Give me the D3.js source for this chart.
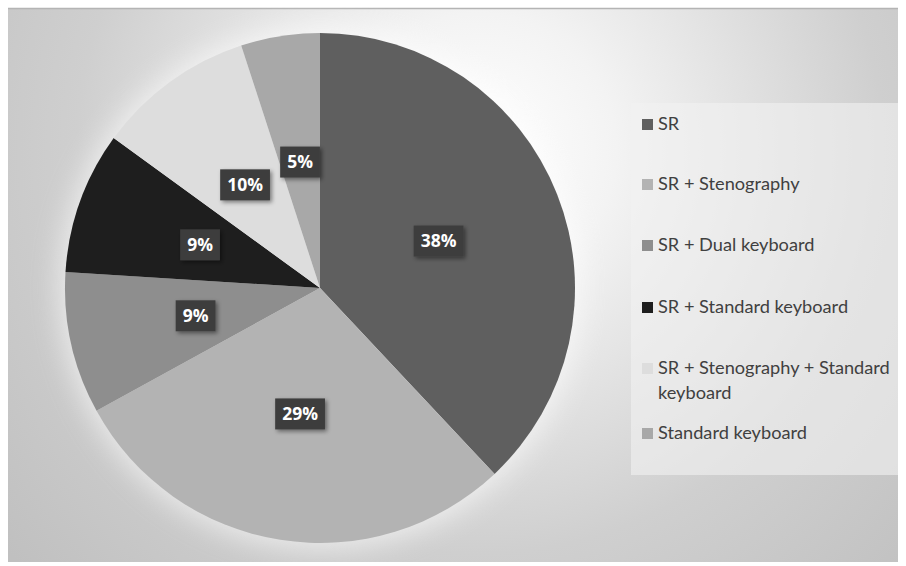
<!DOCTYPE html>
<html><head><meta charset="utf-8">
<script src="https://cdn.jsdelivr.net/npm/d3@7"></script>
<style>html,body{margin:0;padding:0;background:#fff;}svg{display:block;}</style>
</head><body>
<svg id="chart" width="906" height="566"></svg>
<script>
const categories = ["SR", "SR + Stenography", "SR + Dual keyboard", "SR + Standard keyboard", "SR + Stenography + Standard keyboard", "Standard keyboard"];
const values = [38, 29, 9, 9, 10, 5];
const labels = ["38%", "29%", "9%", "9%", "10%", "5%"];
const colors = ["#5f5f5f", "#b3b3b3", "#8e8e8e", "#1e1e1e", "#dddddd", "#a8a8a8"];
const legendLines = [["SR"], ["SR + Stenography"], ["SR + Dual keyboard"], ["SR + Standard keyboard"], ["SR + Stenography + Standard", "keyboard"], ["Standard keyboard"]];

const svg = d3.select("#chart");
const defs = svg.append("defs");

const bg = defs.append("radialGradient").attr("id", "bg")
  .attr("gradientUnits", "userSpaceOnUse").attr("cx", 480).attr("cy", 150).attr("r", 620);
bg.append("stop").attr("offset", "0").attr("stop-color", "#ffffff");
bg.append("stop").attr("offset", "0.22").attr("stop-color", "#f3f3f3");
bg.append("stop").attr("offset", "0.65").attr("stop-color", "#cfcfcf");
bg.append("stop").attr("offset", "1").attr("stop-color", "#c0c0c0");

const glow = defs.append("filter").attr("id", "glow").attr("x", "-30%").attr("y", "-30%").attr("width", "160%").attr("height", "160%");
glow.append("feGaussianBlur").attr("stdDeviation", 14);

const shadow = defs.append("filter").attr("id", "shadow").attr("x", "-30%").attr("y", "-30%").attr("width", "160%").attr("height", "160%");
shadow.append("feDropShadow").attr("dx", 2).attr("dy", 2).attr("stdDeviation", 2).attr("flood-color", "#000").attr("flood-opacity", 0.45);

// background frame
svg.append("rect").attr("x", 8).attr("y", 9).attr("width", 890).attr("height", 553)
  .attr("fill", "url(#bg)");
svg.append("line").attr("x1", 8).attr("x2", 898).attr("y1", 8.5).attr("y2", 8.5)
  .attr("stroke", "#b4b4b4").attr("stroke-width", 1.5);

const cx = 320, cy = 288, R = 255;
const pie = d3.pie().sort(null).value(d => d)(values);
const arc = d3.arc().innerRadius(0).outerRadius(R);

const g = svg.append("g").attr("transform", `translate(${cx},${cy})`);
// soft white glow around pie
g.append("circle").attr("r", R + 6).attr("fill", "#ffffff").attr("opacity", 0.6).attr("filter", "url(#glow)");

g.selectAll("path.slice").data(pie).join("path").attr("class", "slice")
  .attr("d", arc).attr("fill", (d, i) => colors[i]);

// data labels
const lab = g.selectAll("g.lab").data(pie).join("g").attr("class", "lab")
  .attr("transform", d => `translate(${arc.centroid(d)})`);
lab.each(function(d, i) {
  const el = d3.select(this);
  const t = el.append("text").text(labels[i])
    .attr("text-anchor", "middle").attr("dy", "0.36em")
    .attr("font-family", "'Open Sans', Lato, sans-serif").attr("font-weight", "bold")
    .attr("font-size", 17.5).attr("fill", "#ffffff");
  const w = t.node().getComputedTextLength();
  el.insert("rect", "text").attr("x", -w / 2 - 7).attr("y", -15.5).attr("width", w + 14).attr("height", 31)
    .attr("fill", "#3d3d3d").attr("filter", "url(#shadow)");
});

// legend
svg.append("rect").attr("x", 631).attr("y", 103).attr("width", 267).attr("height", 372)
  .attr("fill", "#f1f1f1").attr("opacity", 0.6);
const legendY = [124, 184, 245, 307, 368, 433];
const lg = svg.append("g");
categories.forEach((c, i) => {
  const y = legendY[i];
  lg.append("rect").attr("x", 642).attr("y", y - 5).attr("width", 11).attr("height", 11).attr("fill", colors[i]);
  const t = lg.append("text").attr("x", 658).attr("y", y + 6)
    .attr("font-family", "Lato, 'Open Sans', sans-serif").attr("font-size", 18.2).attr("fill", "#404040");
  legendLines[i].forEach((ln, k) => {
    t.append("tspan").attr("x", 658).attr("dy", k === 0 ? 0 : 25).text(ln);
  });
});
</script>
</body></html>
